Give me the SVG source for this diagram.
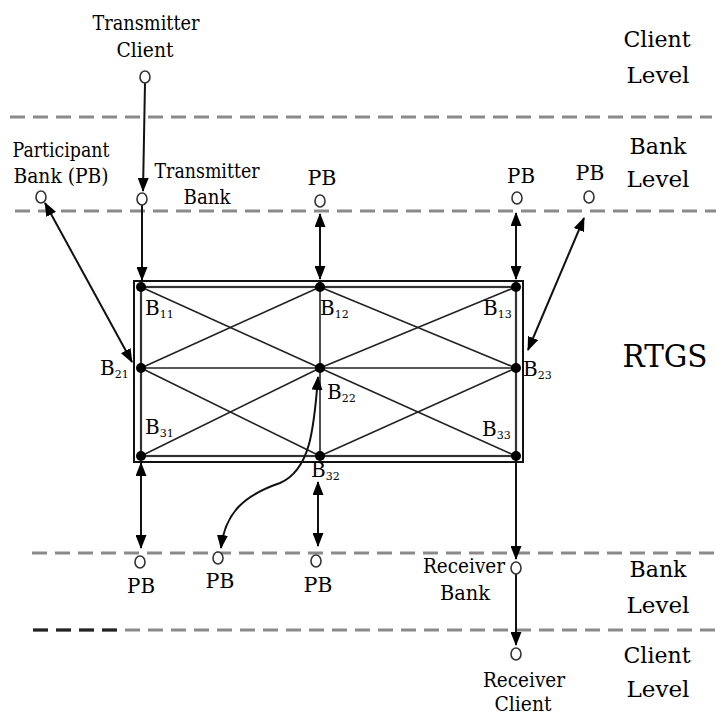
<svg xmlns="http://www.w3.org/2000/svg" width="716" height="716" viewBox="0 0 716 716" font-family="'DejaVu Serif', 'Liberation Serif', serif">
<style>
text{font-family:"DejaVu Serif","Liberation Serif",serif;fill:#000;}
.t{font-size:20px;}
.lv{font-size:22px;}
.b{font-size:20px;}
.s{font-size:11px;}
.dash{stroke:#8a8a8a;stroke-width:3;stroke-dasharray:15 8;fill:none;}
.oc{fill:#fff;stroke:#333;stroke-width:1.6;}
.dot{fill:#000;}
.ar{stroke:#111;stroke-width:2;fill:none;}
.ed{stroke:#222;stroke-width:1.6;fill:none;}
</style>
<defs>
<marker id="ah" viewBox="0 0 14 11" refX="13" refY="5.5" markerWidth="14" markerHeight="11" markerUnits="userSpaceOnUse" orient="auto-start-reverse">
<path d="M0,0 L14,5.5 L0,11 z" fill="#000"/>
</marker>
</defs>
<rect width="716" height="716" fill="#fff"/>

<g id="levels">
<line class="dash" x1="10" y1="117" x2="712" y2="117"/>
<line class="dash" x1="15" y1="211" x2="716" y2="211"/>
<line class="dash" x1="32" y1="553" x2="716" y2="553"/>
<line class="dash" x1="33" y1="630" x2="716" y2="630"/>
<line x1="33" y1="630" x2="122" y2="630" stroke="#222" stroke-width="3" stroke-dasharray="15 8"/>
</g>

<g id="level-labels">
<text class="lv" x="657" y="47" text-anchor="middle" textLength="67" lengthAdjust="spacingAndGlyphs">Client</text>
<text class="lv" x="658" y="83" text-anchor="middle" textLength="63" lengthAdjust="spacingAndGlyphs">Level</text>
<text class="lv" x="658" y="154" text-anchor="middle" textLength="57" lengthAdjust="spacingAndGlyphs">Bank</text>
<text class="lv" x="658" y="187" text-anchor="middle" textLength="63" lengthAdjust="spacingAndGlyphs">Level</text>
<text class="lv" x="658" y="577" text-anchor="middle" textLength="57" lengthAdjust="spacingAndGlyphs">Bank</text>
<text class="lv" x="658" y="613" text-anchor="middle" textLength="63" lengthAdjust="spacingAndGlyphs">Level</text>
<text class="lv" x="657" y="663" text-anchor="middle" textLength="67" lengthAdjust="spacingAndGlyphs">Client</text>
<text class="lv" x="658" y="697" text-anchor="middle" textLength="63" lengthAdjust="spacingAndGlyphs">Level</text>
<text x="665" y="367" text-anchor="middle" font-size="31" textLength="85" lengthAdjust="spacingAndGlyphs">RTGS</text>
</g>

<g id="rtgs-frame">
<rect x="134" y="281" width="389" height="181" fill="none" stroke="#111" stroke-width="2"/>
<rect x="141" y="287" width="375" height="169" fill="none" stroke="#333" stroke-width="2.2"/>
</g>

<g id="connectors">
<g id="mesh">
<line class="ed" x1="141" y1="287" x2="320" y2="368"/>
<line class="ed" x1="320" y1="287" x2="141" y2="368"/>
<line class="ed" x1="320" y1="287" x2="516" y2="368"/>
<line class="ed" x1="516" y1="287" x2="320" y2="368"/>
<line class="ed" x1="141" y1="368" x2="320" y2="456"/>
<line class="ed" x1="320" y1="368" x2="141" y2="456"/>
<line class="ed" x1="320" y1="368" x2="516" y2="456"/>
<line class="ed" x1="516" y1="368" x2="320" y2="456"/>
<line class="ed" x1="141" y1="368" x2="516" y2="368" stroke-width="2.2"/>
<line class="ed" x1="320" y1="287" x2="320" y2="456" stroke-width="2"/>
</g>
<line class="ar" x1="145" y1="83" x2="143" y2="191" marker-end="url(#ah)"/>
<line class="ar" x1="142" y1="205" x2="142" y2="280" marker-end="url(#ah)"/>
<line class="ar" x1="320" y1="214" x2="320" y2="279" marker-start="url(#ah)" marker-end="url(#ah)"/>
<line class="ar" x1="516" y1="213" x2="516" y2="279" marker-start="url(#ah)" marker-end="url(#ah)"/>
<line class="ar" x1="45" y1="203" x2="132" y2="362" marker-start="url(#ah)" marker-end="url(#ah)"/>
<line class="ar" x1="584" y1="218" x2="528" y2="350" marker-start="url(#ah)" marker-end="url(#ah)"/>
<line class="ar" x1="141" y1="463" x2="141" y2="548" marker-start="url(#ah)" marker-end="url(#ah)"/>
<line class="ar" x1="318" y1="482" x2="318" y2="546" marker-start="url(#ah)" marker-end="url(#ah)"/>
<path class="ar" d="M318,377 C314,430 310,470 280,483 C245,495 225,512 221,548" marker-start="url(#ah)" marker-end="url(#ah)"/>
<line class="ar" x1="516" y1="458" x2="516" y2="559" marker-end="url(#ah)"/>
<line class="ar" x1="516" y1="574" x2="516" y2="645" marker-end="url(#ah)"/>
</g>

<g id="transmitter-client">
<ellipse class="oc" cx="145" cy="77" rx="5" ry="6"/>
<text class="t" x="146" y="30" text-anchor="middle" textLength="107" lengthAdjust="spacingAndGlyphs">Transmitter</text>
<text class="t" x="145" y="57" text-anchor="middle" textLength="57" lengthAdjust="spacingAndGlyphs">Client</text>
</g>
<g id="participant-bank">
<ellipse class="oc" cx="41" cy="197" rx="5" ry="6"/>
<text class="t" x="61" y="157" text-anchor="middle" textLength="97" lengthAdjust="spacingAndGlyphs">Participant</text>
<text class="t" x="61" y="183" text-anchor="middle" textLength="95" lengthAdjust="spacingAndGlyphs">Bank (PB)</text>
</g>
<g id="transmitter-bank">
<ellipse class="oc" cx="142" cy="199" rx="5" ry="6"/>
<text class="t" x="207" y="178" text-anchor="middle" textLength="105" lengthAdjust="spacingAndGlyphs">Transmitter</text>
<text class="t" x="207" y="204" text-anchor="middle" textLength="47" lengthAdjust="spacingAndGlyphs">Bank</text>
</g>
<g id="pb-top-1">
<ellipse class="oc" cx="320" cy="201" rx="5" ry="6"/>
<text class="t" x="322" y="185" text-anchor="middle" textLength="29" lengthAdjust="spacingAndGlyphs">PB</text>
</g>
<g id="pb-top-2">
<ellipse class="oc" cx="517" cy="198" rx="5" ry="6"/>
<text class="t" x="521" y="183" text-anchor="middle" textLength="28" lengthAdjust="spacingAndGlyphs">PB</text>
</g>
<g id="pb-top-3">
<ellipse class="oc" cx="589" cy="197" rx="5" ry="6"/>
<text class="t" x="590" y="180" text-anchor="middle" textLength="29" lengthAdjust="spacingAndGlyphs">PB</text>
</g>
<g id="pb-bottom-1">
<ellipse class="oc" cx="140" cy="562" rx="5" ry="6"/>
<text class="t" x="141" y="593" text-anchor="middle" textLength="28" lengthAdjust="spacingAndGlyphs">PB</text>
</g>
<g id="pb-bottom-2">
<ellipse class="oc" cx="218" cy="558" rx="5" ry="6"/>
<text class="t" x="220" y="588" text-anchor="middle" textLength="29" lengthAdjust="spacingAndGlyphs">PB</text>
</g>
<g id="pb-bottom-3">
<ellipse class="oc" cx="316" cy="561" rx="5" ry="6"/>
<text class="t" x="318" y="592" text-anchor="middle" textLength="29" lengthAdjust="spacingAndGlyphs">PB</text>
</g>
<g id="receiver-bank">
<ellipse class="oc" cx="516" cy="568" rx="5" ry="6"/>
<text class="t" x="464" y="573" text-anchor="middle" textLength="82" lengthAdjust="spacingAndGlyphs">Receiver</text>
<text class="t" x="465" y="600" text-anchor="middle" textLength="50" lengthAdjust="spacingAndGlyphs">Bank</text>
</g>
<g id="receiver-client">
<ellipse class="oc" cx="516" cy="654" rx="5" ry="6"/>
<text class="t" x="524" y="687" text-anchor="middle" textLength="82" lengthAdjust="spacingAndGlyphs">Receiver</text>
<text class="t" x="523" y="711" text-anchor="middle" textLength="57" lengthAdjust="spacingAndGlyphs">Client</text>
</g>

<g id="B11"><circle class="dot" cx="141" cy="287" r="5"/><text class="b" x="145" y="315">B<tspan class="s" dy="3">11</tspan></text></g>
<g id="B12"><circle class="dot" cx="320" cy="287" r="5"/><text class="b" x="320" y="315">B<tspan class="s" dy="3">12</tspan></text></g>
<g id="B13"><circle class="dot" cx="516" cy="287" r="5"/><text class="b" x="483" y="315">B<tspan class="s" dy="3">13</tspan></text></g>
<g id="B21"><circle class="dot" cx="141" cy="368" r="5"/><text class="b" x="100" y="375">B<tspan class="s" dy="3">21</tspan></text></g>
<g id="B22"><circle class="dot" cx="320" cy="368" r="5"/><text class="b" x="327" y="399">B<tspan class="s" dy="3">22</tspan></text></g>
<g id="B23"><circle class="dot" cx="516" cy="368" r="5"/><text class="b" x="523" y="376">B<tspan class="s" dy="3">23</tspan></text></g>
<g id="B31"><circle class="dot" cx="141" cy="456" r="5"/><text class="b" x="145" y="434">B<tspan class="s" dy="3">31</tspan></text></g>
<g id="B32"><circle class="dot" cx="320" cy="456" r="5"/><text class="b" x="311" y="477">B<tspan class="s" dy="3">32</tspan></text></g>
<g id="B33"><circle class="dot" cx="516" cy="456" r="5"/><text class="b" x="482" y="436">B<tspan class="s" dy="3">33</tspan></text></g>
</svg>
